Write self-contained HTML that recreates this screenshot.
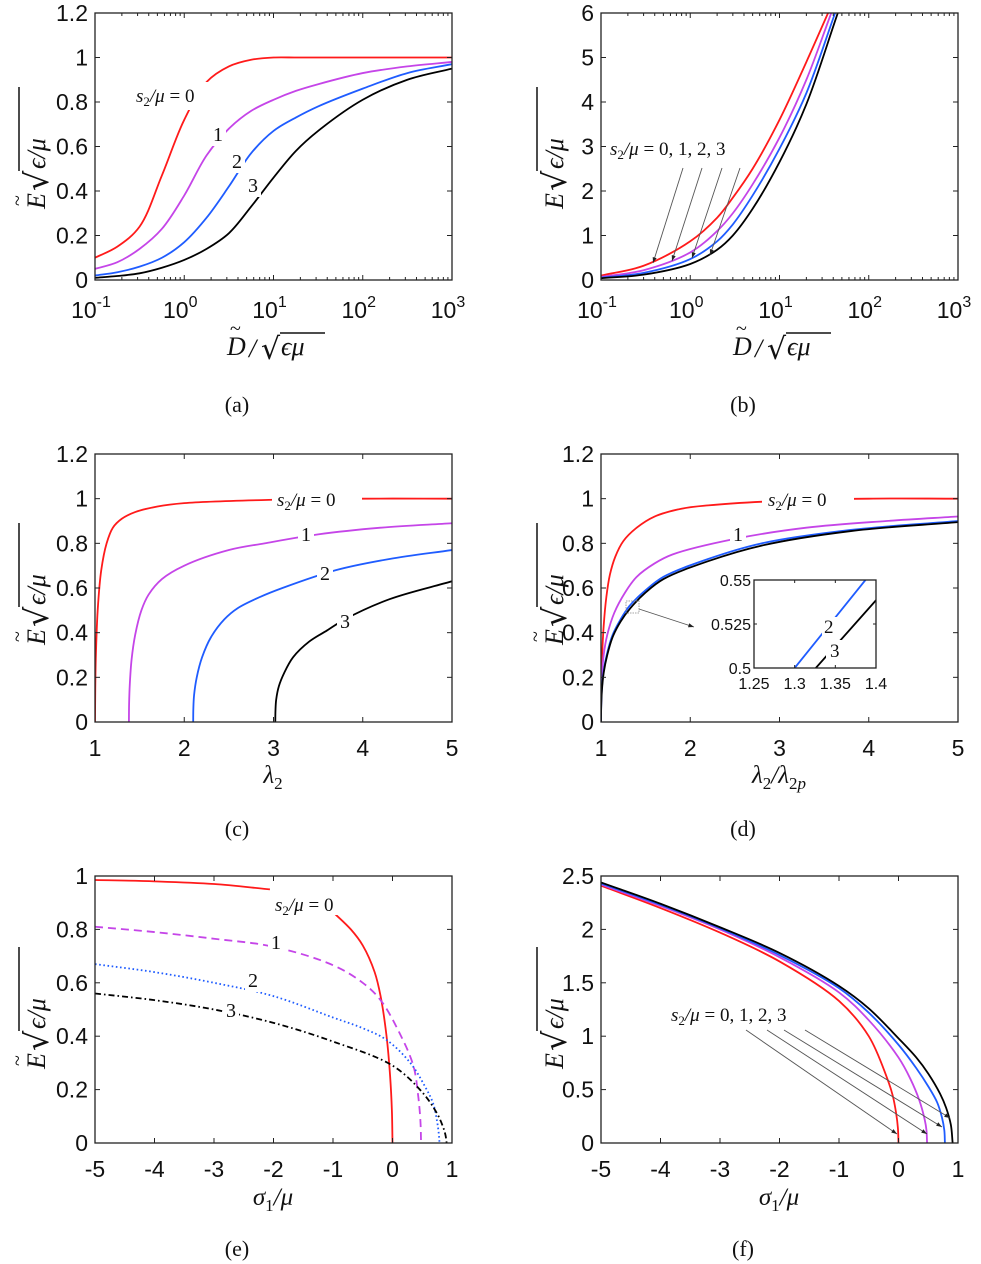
<!DOCTYPE html>
<html><head><meta charset="utf-8"><style>
body{margin:0;background:#fff}
svg{display:block}
.tk{font-family:"Liberation Sans",sans-serif;font-size:23px;fill:#111}
.mt{font-family:"Liberation Serif","DejaVu Serif",serif;font-style:italic;fill:#111}
.cap{font-family:"Liberation Serif",serif;font-size:22px;fill:#111}
</style></head><body>
<svg id="fig" width="981" height="1264" viewBox="0 0 981 1264" xmlns="http://www.w3.org/2000/svg"></svg>
<script>
// ---------- DATA ----------
const seriesNames=["s0","s1","s2","s3"];
const seriesColors=["#ff1a1a","#c545e8","#1f5cff","#000000"];
// panel a
const aXgrid=[0.1,0.178,0.316,0.562,1,1.78,3.16,5.62,10,17.8,31.6,100,316,1000];
const aY=[[0.1,0.15,0.24,0.47,0.72,0.89,0.96,0.99,1,1,1,1,1,1],[0.05,0.08,0.14,0.23,0.38,0.56,0.68,0.76,0.81,0.85,0.88,0.93,0.96,0.98],[0.02,0.035,0.06,0.1,0.17,0.28,0.42,0.57,0.67,0.73,0.78,0.86,0.93,0.97],[0.01,0.018,0.03,0.055,0.09,0.14,0.21,0.33,0.46,0.58,0.67,0.81,0.9,0.95]];
// panel b
const bX=[[0.1,0.3,1,2,3,5,10,20,35],[0.1,0.3,1,2,3,5,10,20,38],[0.1,0.3,1,2,3,5,10,20,42],[0.1,0.3,1,2,3,5,10,20,45]];
const bY=[[0.1,0.32,0.87,1.4,1.85,2.5,3.6,4.9,6],[0.07,0.22,0.62,1.1,1.5,2.15,3.2,4.5,6],[0.05,0.16,0.47,0.87,1.25,1.9,2.95,4.2,6],[0.04,0.12,0.36,0.68,1.0,1.6,2.65,3.95,6]];
// panel c
const cX=[[1,1.003,1.01,1.03,1.07,1.13,1.2,1.3,1.45,1.7,2,3,4,5],[1.38,1.382,1.39,1.41,1.45,1.52,1.6,1.75,2,2.5,2.9,3.5,4.2,5],[2.1,2.102,2.11,2.14,2.2,2.3,2.45,2.6,2.85,3.1,3.7,4.3,5],[3.02,3.022,3.03,3.06,3.12,3.22,3.4,3.6,3.8,4.3,5]];
const cY=[[0,0.15,0.3,0.5,0.68,0.8,0.87,0.91,0.94,0.965,0.98,0.995,1,1],[0,0.08,0.17,0.28,0.39,0.5,0.57,0.64,0.7,0.77,0.8,0.84,0.87,0.89],[0,0.06,0.12,0.2,0.29,0.38,0.46,0.51,0.56,0.6,0.68,0.73,0.77],[0,0.05,0.1,0.16,0.22,0.29,0.36,0.41,0.46,0.55,0.63]];
// panel d
const dX=[[1,1.002,1.01,1.03,1.06,1.1,1.16,1.25,1.4,1.6,1.9,2.2,3,4,5],[1,1.002,1.01,1.03,1.07,1.15,1.27,1.4,1.6,1.8,2.5,3.3,4.2,5],[1,1.002,1.01,1.03,1.07,1.13,1.22,1.32,1.5,1.7,2.2,2.8,3.8,5],[1,1.002,1.01,1.03,1.07,1.13,1.22,1.33,1.5,1.7,2.2,2.8,3.8,5]];
const dY=[[0,0.12,0.27,0.43,0.56,0.66,0.74,0.81,0.87,0.92,0.955,0.97,0.99,1,1],[0,0.09,0.2,0.3,0.39,0.49,0.58,0.65,0.71,0.75,0.82,0.87,0.9,0.92],[0,0.07,0.15,0.23,0.31,0.39,0.46,0.52,0.59,0.65,0.73,0.8,0.86,0.9],[0,0.065,0.14,0.22,0.3,0.38,0.45,0.51,0.58,0.64,0.72,0.79,0.855,0.895]];
const insetX=[[1.3,1.387],[1.326,1.4]];
const insetY=[[0.5,0.55],[0.5,0.5385]];
// panel e
const eX=[[-5,-4,-3,-2.06],[-1,-0.7,-0.5,-0.3,-0.2,-0.1,-0.04,-0.01,0],[-5,-4,-3,-2,-1,-0.5,-0.2,0.1,0.35,0.43,0.47,0.48],[-5,-4,-3,-2,-1,-0.5,-0.1,0.3,0.55,0.68,0.75,0.78,0.79],[-5,-4,-3,-2,-1,0,0.5,0.75,0.85,0.89,0.91]];
const eY=[[0.985,0.98,0.97,0.95],[0.865,0.8,0.74,0.64,0.55,0.4,0.25,0.12,0],[0.81,0.79,0.765,0.735,0.666,0.6,0.535,0.42,0.29,0.18,0.08,0],[0.67,0.64,0.6,0.55,0.47,0.43,0.386,0.3,0.21,0.15,0.08,0.03,0],[0.56,0.535,0.5,0.45,0.38,0.29,0.19,0.11,0.06,0.03,0]];
const eDash=["","","8,5","1.6,2.6","6,3,1.6,3"];
const eColor=["#ff1a1a","#ff1a1a","#c545e8","#1f5cff","#000000"];
// panel f
const fX=[[-5,-4,-3,-2,-1,-0.5,-0.2,-0.1,-0.04,-0.01,0],[-5,-4,-3,-2,-1,-0.5,0,0.2,0.35,0.44,0.47,0.48],[-5,-4,-3,-2,-1,-0.5,0,0.3,0.5,0.65,0.73,0.77,0.78],[-5,-4,-3,-2,-1,-0.5,0,0.3,0.5,0.7,0.8,0.88,0.91]];
const fY=[[2.41,2.2,1.97,1.7,1.33,1.0,0.62,0.45,0.28,0.14,0],[2.42,2.22,2.0,1.74,1.41,1.15,0.8,0.6,0.4,0.22,0.12,0],[2.43,2.23,2.01,1.76,1.45,1.22,0.92,0.7,0.53,0.38,0.24,0.12,0],[2.44,2.24,2.02,1.78,1.47,1.26,0.98,0.8,0.65,0.46,0.33,0.17,0]];
const linTicks6=[0,1,2,3,4,5,6];
const eTicksX=[-5,-4,-3,-2,-1,0,1];

// ---------- helpers ----------
const NS="http://www.w3.org/2000/svg";
const fig=document.getElementById('fig');
function mk(tag,attrs,parent){const e=document.createElementNS(NS,tag);for(const k in attrs)e.setAttribute(k,attrs[k]);(parent||fig).appendChild(e);return e;}
// centripetal Catmull-Rom -> Bezier
function smooth(pts){
  const n=pts.length;
  let d="M"+pts[0][0].toFixed(2)+","+pts[0][1].toFixed(2);
  const dist=(a,b)=>Math.hypot(a[0]-b[0],a[1]-b[1]);
  for(let i=0;i<n-1;i++){
    const p0=pts[Math.max(0,i-1)],p1=pts[i],p2=pts[i+1],p3=pts[Math.min(n-1,i+2)];
    const d1=Math.sqrt(dist(p0,p1)),d2=Math.sqrt(dist(p1,p2)),d3=Math.sqrt(dist(p2,p3));
    let c1,c2;
    if(d1<1e-6||i===0)c1=[p1[0]+(p2[0]-p1[0])/3,p1[1]+(p2[1]-p1[1])/3];
    else{const a=d1*d1,b=d2*d2,den=3*d1*(d1+d2);
      c1=[(a*p2[0]-b*p0[0]+(2*a+3*d1*d2+b)*p1[0])/den,(a*p2[1]-b*p0[1]+(2*a+3*d1*d2+b)*p1[1])/den];}
    if(d3<1e-6||i===n-2)c2=[p2[0]-(p2[0]-p1[0])/3,p2[1]-(p2[1]-p1[1])/3];
    else{const a=d3*d3,b=d2*d2,den=3*d3*(d3+d2);
      c2=[(a*p1[0]-b*p3[0]+(2*a+3*d3*d2+b)*p2[0])/den,(a*p1[1]-b*p3[1]+(2*a+3*d3*d2+b)*p2[1])/den];}
    d+="C"+c1[0].toFixed(2)+","+c1[1].toFixed(2)+" "+c2[0].toFixed(2)+","+c2[1].toFixed(2)+" "+p2[0].toFixed(2)+","+p2[1].toFixed(2);
  }
  return d;
}
function panel(id,L,R,T,B,xs,ys){
  const g=mk('g',{});
  
  
  const clip=mk('clipPath',{id:'clip'+id},g);
  mk('rect',{x:L,y:T,width:R-L,height:B-T},clip);
  const plot=mk('g',{'clip-path':'url(#clip'+id+')'},g);
  
  
  return {g,plot,L,R,T,B,X:v=>L+xs(v)*(R-L),Y:v=>B-ys(v)*(B-T)};
}
function frame(P){
  const r=mk('rect',{x:P.L,y:P.T,width:P.R-P.L,height:P.B-P.T,fill:'none',stroke:'#222','stroke-width':1.3},P.g);
  
  
}
function xtick(P,px,len){mk('line',{x1:px,x2:px,y1:P.B,y2:P.B-len,stroke:'#222','stroke-width':1},P.g);mk('line',{x1:px,x2:px,y1:P.T,y2:P.T+len,stroke:'#222','stroke-width':1},P.g);}
function ytick(P,py,len){mk('line',{x1:P.L,x2:P.L+len,y1:py,y2:py,stroke:'#222','stroke-width':1},P.g);mk('line',{x1:P.R,x2:P.R-len,y1:py,y2:py,stroke:'#222','stroke-width':1},P.g);}
function yLabels(P,vals){vals.forEach(v=>{const py=P.Y(v);ytick(P,py,5);
  const t=mk('text',{x:P.L-7,y:py+8,'text-anchor':'end',class:'tk'},P.g);t.textContent=String(v);
  
  });}
function xLabels(P,vals,dy){vals.forEach(v=>{const px=P.X(v);xtick(P,px,5);
  const t=mk('text',{x:px,y:P.B+dy,'text-anchor':'middle',class:'tk'},P.g);t.textContent=String(v);
  
  });}
function logX(P,exps){exps.forEach((e,i)=>{const px=P.X(Math.pow(10,e));xtick(P,px,5);
  if(i<exps.length-1)for(let m=2;m<10;m++)xtick(P,P.X(m*Math.pow(10,e)),3);
  const t=mk('text',{x:px-4,y:P.B+38,'text-anchor':'middle',class:'tk'},P.g);
  
  
  t.appendChild(document.createTextNode('10'));const s=mk('tspan',{'font-size':16,dy:-11},t);s.textContent=String(e);});}
function curve(P,xs,ys,color,name,dash,w){
  const pts=xs.map((x,i)=>[P.X(x),P.Y(ys[i])]);
  const p=mk('path',{d:smooth(pts),fill:'none',stroke:color,'stroke-width':w||1.8,'stroke-dasharray':dash||'none','stroke-linejoin':'round'},P.plot);
  
  
  return p;
}
function sLabel(parent,x,y,rhs){
  const t=mk('text',{x:x,y:y,class:'mt','font-size':19},parent);
  
  
  t.appendChild(document.createTextNode('s'));
  const s=mk('tspan',{'font-size':13,dy:4,style:'font-style:normal'},t);s.textContent='2';
  const r=mk('tspan',{dy:-4},t);r.textContent='/μ ';
  const q=mk('tspan',{style:'font-style:normal'},t);q.textContent='= '+rhs;
  return t;
}
function numLabel(parent,x,y,txt){
  mk('rect',{x:x-3,y:y-16,width:16,height:21,fill:'#fff'},parent);
  const t=mk('text',{x:x,y:y,class:'mt','font-size':20,style:'font-style:normal'},parent);t.textContent=txt;
  
  
}
function yTitle(cx,cy,tilde){
  const g=mk('g',{transform:'translate('+cx+','+cy+') rotate(-90)'});
  
  
  const t=mk('text',{x:-62,y:10,class:'mt','font-size':26},g);t.textContent='E';
  if(tilde){const tt=mk('text',{x:-59,y:-11,class:'mt','font-size':20,style:'font-style:normal'},g);tt.textContent='~';}
  const s=mk('text',{x:-44,y:13,'font-family':'DejaVu Sans,sans-serif','font-size':32,fill:'#111'},g);s.textContent='√';
  mk('line',{x1:-24,x2:60,y1:-16,y2:-16,stroke:'#111','stroke-width':1.5},g);
  const u=mk('text',{x:-22,y:10,class:'mt','font-size':26},g);u.textContent='ϵ/μ';
}
function xTitleD(cx,y){
  const g=mk('g',{});
  
  
  const t=mk('text',{x:cx-48,y:y,class:'mt','font-size':26},g);t.textContent='D';
  const tt=mk('text',{x:cx-45,y:y-20,class:'mt','font-size':20,style:'font-style:normal'},g);tt.textContent='~';
  const a=mk('text',{x:cx-26,y:y+2,class:'mt','font-size':26},g);a.textContent='/';
  const s=mk('text',{x:cx-14,y:y+4,'font-family':'DejaVu Sans,sans-serif','font-size':30,fill:'#111'},g);s.textContent='√';
  mk('line',{x1:cx+5,x2:cx+50,y1:y-22,y2:y-22,stroke:'#111','stroke-width':1.5},g);
  const u=mk('text',{x:cx+6,y:y,class:'mt','font-size':26},g);u.textContent='ϵμ';
}
function xTitleText(cx,y,parts){
  const t=mk('text',{x:cx,y:y,class:'mt','font-size':25,'text-anchor':'middle'});
  
  
  let cur=0;
  parts.forEach(p=>{const sub=p[1];const target=sub?6:0;
    const a={dy:target-cur};if(sub)a['font-size']=17;a.style='font-style:'+(p[2]||'italic');
    const s=mk('tspan',a,t);s.textContent=p[0];cur=target;});
}
function caption(cx,y,txt){const t=mk('text',{x:cx,y:y,'text-anchor':'middle',class:'cap'});t.textContent=txt;
  
  }
function arrow(parent,x1,y1,x2,y2){
  const l=mk('line',{x1,y1,x2,y2,stroke:'#555','stroke-width':0.9},parent);
  
  
  const a=Math.atan2(y2-y1,x2-x1),s=6;
  mk('path',{d:`M${x2},${y2}L${x2-s*Math.cos(a-0.35)},${y2-s*Math.sin(a-0.35)}L${x2-s*Math.cos(a+0.35)},${y2-s*Math.sin(a+0.35)}Z`,fill:'#222'},parent);
}
const logS=(a,b)=>v=>(Math.log10(v)-a)/(b-a);
const linS=(a,b)=>v=>(v-a)/(b-a);

// ---------- panel a ----------
let P=panel('a',95,452,13,280,logS(-1,3),linS(0,1.2));
for(let i=0;i<4;i++)curve(P,aXgrid,aY[i],seriesColors[i],'curve-a-'+seriesNames[i]);
frame(P);yLabels(P,[0,0.2,0.4,0.6,0.8,1,1.2]);logX(P,[-1,0,1,2,3]);
mk('rect',{x:185,y:82,width:28,height:28,fill:'#fff'},P.g);
sLabel(P.g,136,102,'0');
numLabel(P.g,213,141,'1');numLabel(P.g,232,168,'2');numLabel(P.g,248,192,'3');
yTitle(35,147,true);xTitleD(275,355);caption(237,412,'(a)');

// ---------- panel b ----------
P=panel('b',601,958,13,280,logS(-1,3),linS(0,6));
for(let i=0;i<4;i++)curve(P,bX[i],bY[i],seriesColors[i],'curve-b-'+seriesNames[i]);
frame(P);yLabels(P,linTicks6);logX(P,[-1,0,1,2,3]);
sLabel(P.g,610,155,'0, 1, 2, 3');
arrow(P.g,683,168,653,263);arrow(P.g,702,168,672,261);arrow(P.g,722,168,692,258);arrow(P.g,740,168,710,255);
yTitle(553,147,false);xTitleD(781,355);caption(743,412,'(b)');

// ---------- panel c ----------
P=panel('c',95,452,454,722,linS(1,5),linS(0,1.2));
for(let i=0;i<4;i++)curve(P,cX[i],cY[i],seriesColors[i],'curve-c-'+seriesNames[i]);
frame(P);yLabels(P,[0,0.2,0.4,0.6,0.8,1,1.2]);xLabels(P,[1,2,3,4,5],34);
mk('rect',{x:272,y:488,width:90,height:22,fill:'#fff'},P.g);sLabel(P.g,277,506,'0');
numLabel(P.g,301,541,'1');numLabel(P.g,320,580,'2');numLabel(P.g,340,628,'3');
yTitle(35,583,true);xTitleText(273,783,[['λ'],['2',1,'normal']]);caption(237,836,'(c)');

// ---------- panel d ----------
P=panel('d',601,958,454,722,linS(1,5),linS(0,1.2));
for(let i=0;i<4;i++)curve(P,dX[i],dY[i],seriesColors[i],'curve-d-'+seriesNames[i]);
frame(P);yLabels(P,[0,0.2,0.4,0.6,0.8,1,1.2]);xLabels(P,[1,2,3,4,5],34);
mk('rect',{x:762,y:488,width:92,height:22,fill:'#fff'},P.g);sLabel(P.g,768,506,'0');
numLabel(P.g,733,541,'1');
mk('rect',{x:626,y:601,width:13,height:12,fill:'none',stroke:'#888','stroke-width':0.8,'stroke-dasharray':'1.5,1'},P.g);
arrow(P.g,639,609,694,627);
const I=panel('d-inset',754,876,580,668,linS(1.25,1.4),linS(0.5,0.55));
mk('rect',{x:754,y:580,width:122,height:88,fill:'#fff'},I.plot);
curve(I,insetX[0],insetY[0],seriesColors[2],'inset-curve-s2');
curve(I,insetX[1],insetY[1],seriesColors[3],'inset-curve-s3');
mk('rect',{x:822,y:617,width:16,height:20,fill:'#fff'},I.g);
mk('rect',{x:826,y:640,width:16,height:20,fill:'#fff'},I.g);
const i2=mk('text',{x:824,y:633,class:'mt','font-size':19,style:'font-style:normal'},I.g);i2.textContent='2';
const i3=mk('text',{x:830,y:657,class:'mt','font-size':19,style:'font-style:normal'},I.g);i3.textContent='3';
frame(I);
[[0.5,'0.5'],[0.525,'0.525'],[0.55,'0.55']].forEach(v=>{ytick(I,I.Y(v[0]),3);const t=mk('text',{x:751,y:I.Y(v[0])+6,'text-anchor':'end',class:'tk'},I.g);t.style.fontSize='16px';t.textContent=v[1];
  
  });
[[1.25,'1.25'],[1.3,'1.3'],[1.35,'1.35'],[1.4,'1.4']].forEach(v=>{xtick(I,I.X(v[0]),3);const t=mk('text',{x:I.X(v[0]),y:689,'text-anchor':'middle',class:'tk'},I.g);t.style.fontSize='16px';t.textContent=v[1];
  
  });
yTitle(553,583,true);
xTitleText(779,783,[['λ'],['2',1,'normal'],['/λ'],['2',1,'normal'],['p',1,'italic']]);
caption(743,836,'(d)');

// ---------- panel e ----------
P=panel('e',95,452,876,1143,linS(-5,1),linS(0,1));
for(let i=0;i<5;i++)curve(P,eX[i],eY[i],eColor[i],'curve-e-'+i,eDash[i]);
frame(P);yLabels(P,[0,0.2,0.4,0.6,0.8,1]);xLabels(P,eTicksX,34);
mk('rect',{x:272,y:893,width:72,height:22,fill:'#fff'},P.g);sLabel(P.g,275,911,'0');
numLabel(P.g,271,949,'1');numLabel(P.g,248,987,'2');numLabel(P.g,226,1017,'3');
yTitle(35,1007,true);
xTitleText(273,1205,[['σ'],['1',1,'normal'],['/μ']]);caption(237,1256,'(e)');

// ---------- panel f ----------
P=panel('f',601,958,876,1143,linS(-5,1),linS(0,2.5));
for(let i=0;i<4;i++)curve(P,fX[i],fY[i],seriesColors[i],'curve-f-'+seriesNames[i]);
frame(P);yLabels(P,[0,0.5,1,1.5,2,2.5]);xLabels(P,eTicksX,34);
sLabel(P.g,671,1021,'0, 1, 2, 3');
arrow(P.g,746,1030,897,1134);arrow(P.g,767,1030,927,1134);arrow(P.g,784,1030,942,1127);arrow(P.g,805,1030,950,1118);
yTitle(553,1007,false);
xTitleText(779,1205,[['σ'],['1',1,'normal'],['/μ']]);caption(743,1256,'(f)');
</script>
</body></html>
